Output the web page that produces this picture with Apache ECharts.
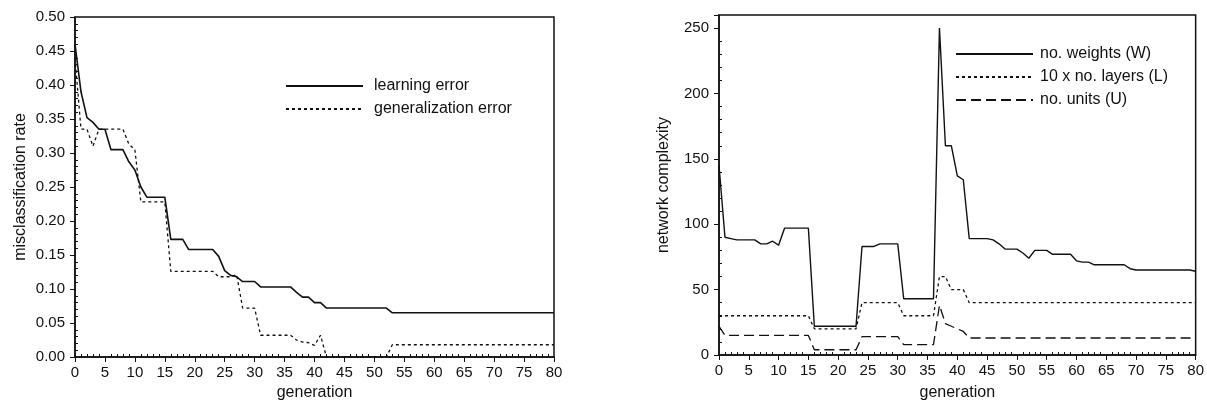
<!DOCTYPE html>
<html>
<head>
<meta charset="utf-8">
<script src="https://cdn.jsdelivr.net/npm/echarts@6/dist/echarts.min.js"></script>
<style>
  html, body { margin: 0; padding: 0; background: #fff; }
  #chart { width: 1207px; height: 406px; }
</style>
</head>
<body>
<div id="chart"></div>
<script>
// generation index 0..80
const generation = Array.from({ length: 81 }, (_, i) => i)

// left panel: misclassification rate
const learningError = [
  0.46, 0.39, 0.352, 0.345, 0.335, 0.335, 0.305, 0.305, 0.305, 0.287,
  0.275, 0.25, 0.235, 0.235, 0.235, 0.235, 0.173, 0.173, 0.173, 0.158,
  0.158, 0.158, 0.158, 0.158, 0.148, 0.127, 0.12, 0.118, 0.111, 0.111,
  0.111, 0.103, 0.103, 0.103, 0.103, 0.103, 0.103, 0.095, 0.088, 0.088,
  0.08, 0.08, 0.072, 0.072, 0.072, 0.072, 0.072, 0.072, 0.072, 0.072,
  0.072, 0.072, 0.072, 0.065, 0.065, 0.065, 0.065, 0.065, 0.065, 0.065,
  0.065, 0.065, 0.065, 0.065, 0.065, 0.065, 0.065, 0.065, 0.065, 0.065,
  0.065, 0.065, 0.065, 0.065, 0.065, 0.065, 0.065, 0.065, 0.065, 0.065,
  0.065
]
const generalizationError = [
  0.44, 0.335, 0.335, 0.31, 0.335, 0.335, 0.335, 0.335, 0.335, 0.313,
  0.305, 0.228, 0.228, 0.228, 0.228, 0.228, 0.126, 0.126, 0.126, 0.126,
  0.126, 0.126, 0.126, 0.126, 0.118, 0.118, 0.118, 0.121, 0.072, 0.072,
  0.072, 0.032, 0.032, 0.032, 0.032, 0.032, 0.032, 0.025, 0.022, 0.021,
  0.017, 0.032, 0, 0, 0, 0, 0, 0, 0, 0,
  0, 0, 0, 0.018, 0.018, 0.018, 0.018, 0.018, 0.018, 0.018,
  0.018, 0.018, 0.018, 0.018, 0.018, 0.018, 0.018, 0.018, 0.018, 0.018,
  0.018, 0.018, 0.018, 0.018, 0.018, 0.018, 0.018, 0.018, 0.018, 0.018,
  0.018
]

// right panel: network complexity
const noWeights = [
  145, 90, 89, 88, 88, 88, 88, 85, 85, 87,
  84, 97, 97, 97, 97, 97, 22, 22, 22, 22,
  22, 22, 22, 22, 83, 83, 83, 85, 85, 85,
  85, 43, 43, 43, 43, 43, 43, 250, 160, 160,
  137, 134, 89, 89, 89, 89, 88, 85, 81, 81,
  81, 78, 74, 80, 80, 80, 77, 77, 77, 77,
  72, 71, 71, 69, 69, 69, 69, 69, 69, 66,
  65, 65, 65, 65, 65, 65, 65, 65, 65, 65,
  64
]
const noLayersX10 = [
  30, 30, 30, 30, 30, 30, 30, 30, 30, 30,
  30, 30, 30, 30, 30, 30, 20, 20, 20, 20,
  20, 20, 20, 20, 40, 40, 40, 40, 40, 40,
  40, 30, 30, 30, 30, 30, 30, 60, 60, 50,
  50, 50, 40, 40, 40, 40, 40, 40, 40, 40,
  40, 40, 40, 40, 40, 40, 40, 40, 40, 40,
  40, 40, 40, 40, 40, 40, 40, 40, 40, 40,
  40, 40, 40, 40, 40, 40, 40, 40, 40, 40,
  40
]
const noUnits = [
  22, 15, 15, 15, 15, 15, 15, 15, 15, 15,
  15, 15, 15, 15, 15, 15, 4, 4, 4, 4,
  4, 4, 4, 4, 14, 14, 14, 14, 14, 14,
  14, 8, 8, 8, 8, 8, 8, 38, 24, 22,
  20, 18, 13, 13, 13, 13, 13, 13, 13, 13,
  13, 13, 13, 13, 13, 13, 13, 13, 13, 13,
  13, 13, 13, 13, 13, 13, 13, 13, 13, 13,
  13, 13, 13, 13, 13, 13, 13, 13, 13, 13,
  13
]

const ink = '#111'
const font = '"Liberation Sans", Arial, Helvetica, sans-serif'

const pairs = (ys) => generation.map((g, i) => [g, ys[i]])

const xAxisFor = (gridIndex, nameGap) => ({
  type: 'value',
  gridIndex,
  min: 0,
  max: 80,
  interval: 5,
  name: 'generation',
  nameLocation: 'middle',
  nameGap,
  nameTextStyle: { color: ink, fontSize: 16, fontFamily: font },
  axisLine: { lineStyle: { color: ink, width: 1.5 } },
  axisTick: { length: 5, lineStyle: { color: ink, width: 1 } },
  minorTick: { show: true, splitNumber: 5, length: -3, lineStyle: { color: ink, width: 1 } },
  splitLine: { show: false },
  axisLabel: { color: ink, fontSize: 15, fontFamily: font, margin: 8 }
})

const yAxisBase = {
  type: 'value',
  nameLocation: 'middle',
  nameTextStyle: { color: ink, fontSize: 16, fontFamily: font },
  axisLine: { show: true, lineStyle: { color: ink, width: 1.5 } },
  axisTick: { show: true, length: 5, lineStyle: { color: ink, width: 1 } },
  minorTick: { show: true, splitNumber: 5, length: -3, lineStyle: { color: ink, width: 1 } },
  splitLine: { show: false }
}

const legendBase = {
  orient: 'vertical',
  padding: 0,
  itemWidth: 77,
  itemHeight: 14,
  itemGap: 7,
  itemStyle: { opacity: 0 }
}

const lineSeries = (name, ys, type, width, idx) => ({
  name,
  type: 'line',
  xAxisIndex: idx,
  yAxisIndex: idx,
  data: pairs(ys),
  symbol: 'none',
  lineStyle: { color: ink, width, type },
  itemStyle: { color: ink },
  animation: false
})

const chart = echarts.init(document.getElementById('chart'))
chart.setOption({
  backgroundColor: '#fff',
  animation: false,
  grid: [
    { left: 75, right: 653, top: 17, bottom: 49, show: true, borderColor: ink, borderWidth: 1.5 },
    { left: 719, right: 11, top: 15, bottom: 51, show: true, borderColor: ink, borderWidth: 1.5 }
  ],
  legend: [
    Object.assign({}, legendBase, {
      data: ['learning error', 'generalization error'],
      left: 285,
      top: 78,
      textStyle: { color: ink, fontSize: 16, fontFamily: font, padding: [0, 0, 0, 6] }
    }),
    Object.assign({}, legendBase, {
      data: ['no. weights (W)', '10 x no. layers (L)', 'no. units (U)'],
      left: 955,
      top: 46,
      textStyle: { color: ink, fontSize: 16, fontFamily: font, padding: [0, 0, 0, 2] }
    })
  ],
  xAxis: [xAxisFor(0, 28), xAxisFor(1, 30)],
  yAxis: [
    Object.assign({}, yAxisBase, {
      gridIndex: 0,
      min: 0,
      max: 0.5,
      interval: 0.05,
      name: 'misclassification rate',
      nameGap: 46,
      axisLabel: { color: ink, fontSize: 15, fontFamily: font, margin: 10, formatter: (v) => v.toFixed(2) }
    }),
    Object.assign({}, yAxisBase, {
      gridIndex: 1,
      min: 0,
      max: 260,
      interval: 50,
      name: 'network complexity',
      nameGap: 47,
      axisLabel: { color: ink, fontSize: 15, fontFamily: font, margin: 10, showMaxLabel: false }
    })
  ],
  series: [
    lineSeries('learning error', learningError, 'solid', 1.6, 0),
    lineSeries('generalization error', generalizationError, [3, 3], 1.3, 0),
    lineSeries('no. weights (W)', noWeights, 'solid', 1.4, 1),
    lineSeries('10 x no. layers (L)', noLayersX10, [3, 3], 1.3, 1),
    lineSeries('no. units (U)', noUnits, [10, 5], 1.3, 1)
  ]
})
</script>
</body>
</html>
